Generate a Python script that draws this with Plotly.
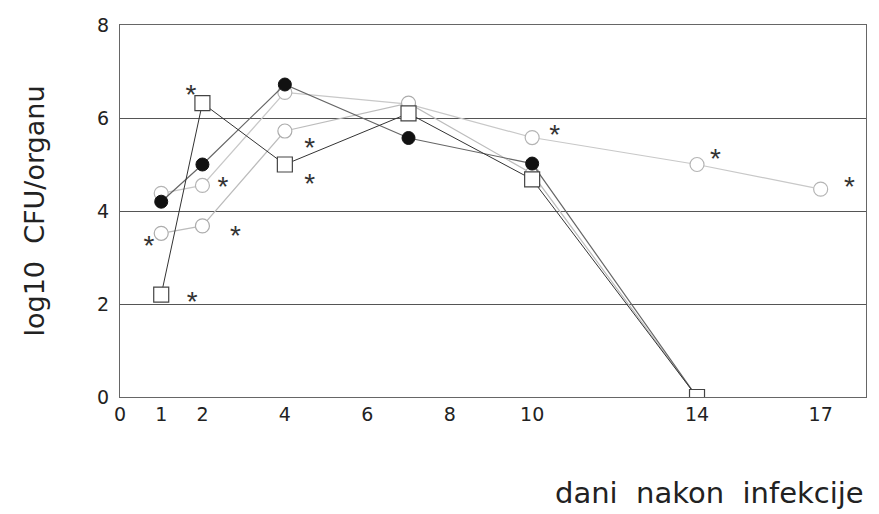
import plotly.graph_objects as go

# Days after infection and log10 CFU per organ for each group
days = [1, 2, 4, 7, 10, 14]
days_long = [1, 2, 4, 7, 10, 14, 17]

cfu_filled_circle = [4.2, 5.0, 6.72, 5.57, 5.02, 0.0]
cfu_square = [2.2, 6.32, 5.0, 6.1, 4.68, 0.0]
cfu_open_circle = [4.38, 4.55, 6.55, 6.3, 5.58, 5.0, 4.47]
cfu_diamond = [3.52, 3.68, 5.72, 6.32, 4.8, 0.0]

# Significance markers (asterisks)
star_x = [1.72, 2.5, 0.7, 2.8, 1.75, 4.6, 4.6, 10.55, 14.45, 17.7]
star_y = [6.45, 4.47, 3.2, 3.42, 2.0, 5.32, 4.54, 5.6, 5.08, 4.47]

x_ticks = [0, 1, 2, 4, 6, 8, 10, 14, 17]
y_ticks = [0, 2, 4, 6, 8]

fig = go.Figure()

fig.add_trace(go.Scatter(
    x=days_long, y=cfu_open_circle, mode="lines+markers",
    line=dict(color="#c8c8c8", width=1.2),
    marker=dict(symbol="circle", size=14, color="white",
                line=dict(color="#b4b4b4", width=1.2)),
))
fig.add_trace(go.Scatter(
    x=days, y=cfu_diamond, mode="lines+markers",
    line=dict(color="#bcbcbc", width=1.2),
    marker=dict(symbol="circle", size=14, color="white",
                line=dict(color="#acacac", width=1.2)),
))
fig.add_trace(go.Scatter(
    x=days, y=cfu_filled_circle, mode="lines+markers",
    line=dict(color="#666666", width=1.2),
    marker=dict(symbol="circle", size=13, color="#111111",
                line=dict(color="#111111", width=1)),
))
fig.add_trace(go.Scatter(
    x=days, y=cfu_square, mode="lines+markers",
    line=dict(color="#333333", width=1),
    marker=dict(symbol="square", size=15, color="white",
                line=dict(color="#444444", width=1.2)),
))
fig.add_trace(go.Scatter(
    x=star_x, y=star_y, mode="text", text=["*"] * len(star_x),
    textposition="middle center",
    textfont=dict(family="Liberation Sans, Arial", size=28, color="#333333"),
))

fig.update_layout(
    width=879, height=514,
    margin=dict(l=120, r=13, t=25, b=117),
    paper_bgcolor="white", plot_bgcolor="white",
    showlegend=False,
    font=dict(family="DejaVu Sans", color="#222222"),
    xaxis=dict(
        range=[0, 18.1], tickvals=x_ticks, ticktext=[str(t) for t in x_ticks],
        showgrid=False, zeroline=False, showline=True, linecolor="#666666",
        linewidth=1, mirror=True, ticks="", tickfont=dict(size=19),
    ),
    yaxis=dict(
        range=[0, 8], tickvals=y_ticks, showgrid=True, gridcolor="#555555",
        gridwidth=1, zeroline=False, showline=True, linecolor="#666666",
        linewidth=1, mirror=True, ticks="", tickfont=dict(size=19),
        ticklabelstandoff=6,
        title=dict(text="log10  CFU/organu", font=dict(size=27), standoff=44),
    ),
    annotations=[dict(
        text="dani  nakon  infekcije", x=1.0, y=0, xref="paper", yref="paper",
        xanchor="right", yanchor="top", yshift=-77, showarrow=False,
        font=dict(size=29, color="#222222"),
    )],
)

fig.write_html("out.html")
